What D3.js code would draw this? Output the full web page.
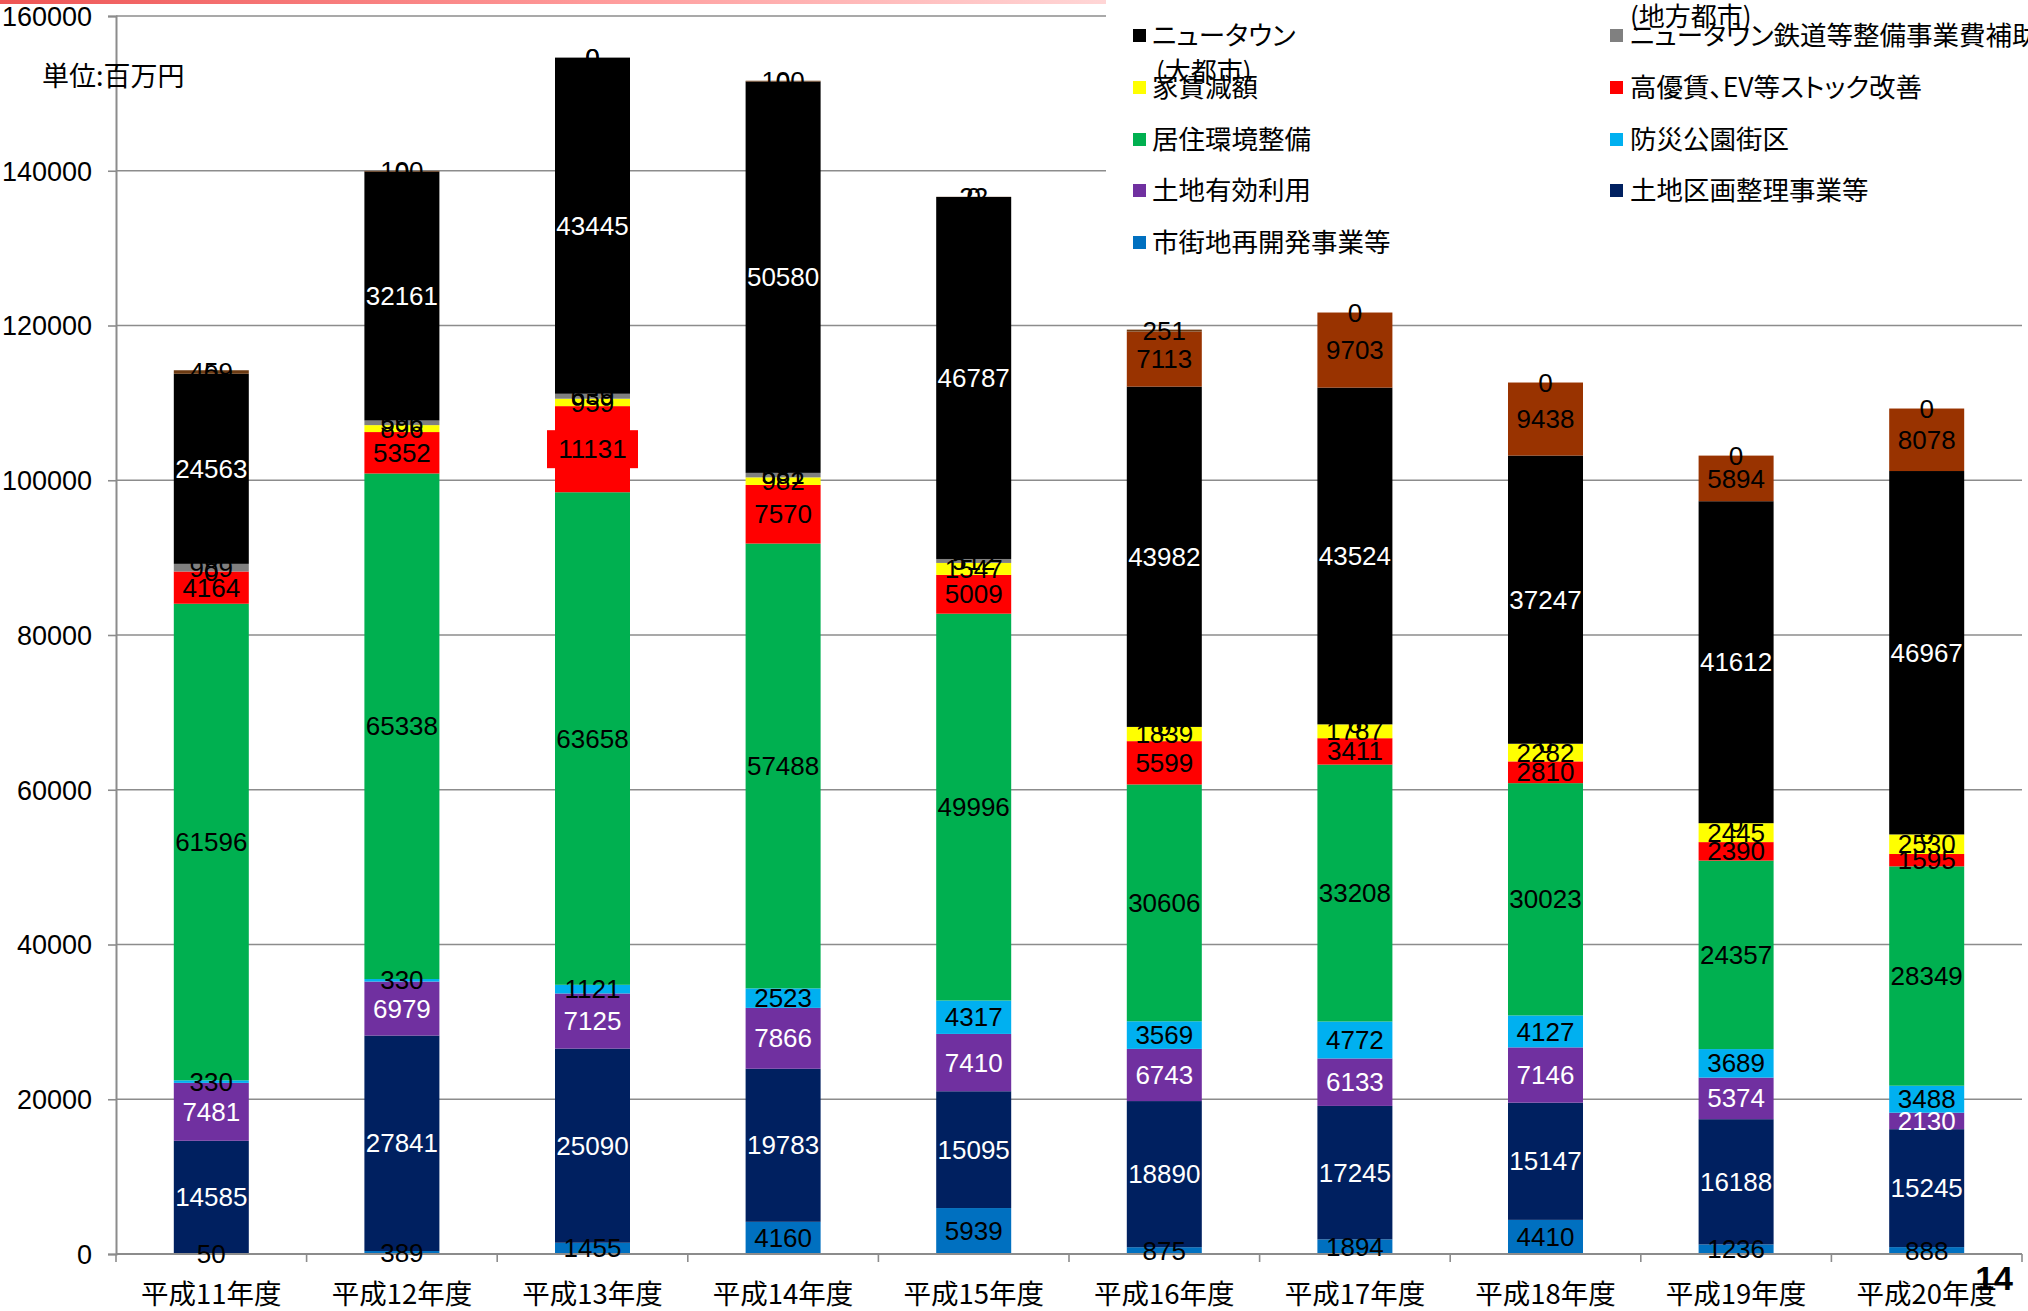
<!DOCTYPE html>
<html>
<head>
<meta charset="utf-8">
<script src="https://cdn.jsdelivr.net/npm/d3@7/dist/d3.min.js"></script>
<style>
  html, body { margin: 0; padding: 0; background: #ffffff; }
  svg { display: block; }
  .jp { font-family: 'Noto Sans CJK JP', 'Noto Sans', sans-serif; font-feature-settings: "palt"; }
</style>
</head>
<body>
<svg id="chart" width="2028" height="1311"></svg>
<script>
// ---- data (百万円) ----
const categories = ["平成11年度", "平成12年度", "平成13年度", "平成14年度", "平成15年度",
                    "平成16年度", "平成17年度", "平成18年度", "平成19年度", "平成20年度"];

const shigaichiValues  = [50, 389, 1455, 4160, 5939, 875, 1894, 4410, 1236, 888];           // 市街地再開発事業等
const kukakuValues     = [14585, 27841, 25090, 19783, 15095, 18890, 17245, 15147, 16188, 15245]; // 土地区画整理事業等
const yukoValues       = [7481, 6979, 7125, 7866, 7410, 6743, 6133, 7146, 5374, 2130];     // 土地有効利用
const bosaiValues      = [330, 330, 1121, 2523, 4317, 3569, 4772, 4127, 3689, 3488];       // 防災公園街区
const kyojuValues      = [61596, 65338, 63658, 57488, 49996, 30606, 33208, 30023, 24357, 28349]; // 居住環境整備
const koyuchinValues   = [4164, 5352, 11131, 7570, 5009, 5599, 3411, 2810, 2390, 1595];    // 高優賃、EV等ストック改善
const yachinValues     = [0, 896, 959, 982, 1547, 1839, 1787, 2282, 2445, 2530];            // 家賃減額
const tetsudoValues    = [989, 596, 639, 581, 512, 0, 0, 0, 0, 0];                          // ニュータウン鉄道等整備事業費補助
const ntDaitoshiValues = [24563, 32161, 43445, 50580, 46787, 43982, 43524, 37247, 41612, 46967]; // ニュータウン（大都市）
const ntChihoValues    = [0, 0, 0, 0, 0, 7113, 9703, 9438, 5894, 8078];                     // ニュータウン（地方都市）
const ntOtherValues    = [459, 100, 0, 100, 22, 251, 0, 0, 0, 0];                           // ニュータウン（その他）

const yTickValues = [0, 20000, 40000, 60000, 80000, 100000, 120000, 140000, 160000];

// stacking order, bottom to top
const seriesDefs = [
  { name: "市街地再開発事業等", values: shigaichiValues },
  { name: "土地区画整理事業等", values: kukakuValues },
  { name: "土地有効利用", values: yukoValues },
  { name: "防災公園街区", values: bosaiValues },
  { name: "居住環境整備", values: kyojuValues },
  { name: "高優賃、EV等ストック改善", values: koyuchinValues },
  { name: "家賃減額", values: yachinValues },
  { name: "ニュータウン鉄道等整備事業費補助", values: tetsudoValues },
  { name: "ニュータウン", values: ntDaitoshiValues },
  { name: "ニュータウン（地方都市）", values: ntChihoValues },
  { name: "ニュータウン（その他）", values: ntOtherValues }
];

// ---- styles ----
const fillColor = {
  "市街地再開発事業等": "#0070C0",
  "土地区画整理事業等": "#002060",
  "土地有効利用": "#7030A0",
  "防災公園街区": "#00B0F0",
  "居住環境整備": "#00B050",
  "高優賃、EV等ストック改善": "#FF0000",
  "家賃減額": "#FFFF00",
  "ニュータウン鉄道等整備事業費補助": "#808080",
  "ニュータウン": "#000000",
  "ニュータウン（地方都市）": "#993300",
  "ニュータウン（その他）": "#6B3A12"
};
const whiteLabelSeries = new Set(["土地区画整理事業等", "土地有効利用", "ニュータウン"]);
const legendSeries = new Set(["ニュータウン", "ニュータウン鉄道等整備事業費補助", "家賃減額",
  "高優賃、EV等ストック改善", "居住環境整備", "防災公園街区", "土地有効利用",
  "土地区画整理事業等", "市街地再開発事業等"]);
// the one data label drawn on a filled box
const boxedLabel = { series: "高優賃、EV等ストック改善", category: "平成13年度" };

const NUM_FONT = "'Liberation Sans', Arial, sans-serif";
const GRID = "#8c8c8c";

// ---- layout ----
const plot = { left: 116, right: 2022, top: 16, bottom: 1254 };

const svg = d3.select("#chart");

const x = d3.scaleBand()
  .domain(categories)
  .range([plot.left, plot.right])
  .paddingInner(0.6065)
  .paddingOuter(0.30325);

const y = d3.scaleLinear()
  .domain([0, 160000])
  .range([plot.bottom, plot.top]);

// top accent strip
const defs = svg.append("defs");
const grad = defs.append("linearGradient").attr("id", "topStrip")
  .attr("x1", "0%").attr("x2", "100%").attr("y1", "0%").attr("y2", "0%");
grad.append("stop").attr("offset", "0%").attr("stop-color", "#EE5555");
grad.append("stop").attr("offset", "55%").attr("stop-color", "#FF9C9C");
grad.append("stop").attr("offset", "100%").attr("stop-color", "#FFD6D6");
svg.append("rect").attr("x", 0).attr("y", 0).attr("width", 1108).attr("height", 4)
  .attr("fill", "url(#topStrip)");

// horizontal gridlines
svg.append("g").selectAll("line")
  .data(yTickValues.filter(v => v > 0))
  .join("line")
  .attr("x1", plot.left).attr("x2", plot.right)
  .attr("y1", d => y(d)).attr("y2", d => y(d))
  .attr("stroke", GRID).attr("stroke-width", 1.6);

// y axis
const yAxis = svg.append("g")
  .attr("transform", `translate(${plot.left},0)`)
  .call(d3.axisLeft(y).tickValues(yTickValues).tickSize(8).tickPadding(16).tickFormat(d3.format("d")));
yAxis.select(".domain").attr("stroke", GRID).attr("stroke-width", 2);
yAxis.selectAll(".tick line").attr("stroke", GRID).attr("stroke-width", 1.6);
yAxis.selectAll(".tick text")
  .attr("font-family", NUM_FONT).attr("font-size", 27).attr("fill", "#000").attr("dy", "0.35em");

// stacked bars
const rows = categories.map((c, i) => {
  const r = { category: c };
  seriesDefs.forEach(s => { r[s.name] = s.values[i]; });
  return r;
});
const stacked = d3.stack().keys(seriesDefs.map(s => s.name))(rows);

const barG = svg.append("g");
stacked.forEach(layer => {
  barG.append("g").attr("fill", fillColor[layer.key])
    .selectAll("rect")
    .data(layer.filter(d => d[1] > d[0]))
    .join("rect")
    .attr("x", d => x(d.data.category))
    .attr("width", x.bandwidth())
    .attr("y", d => y(d[1]))
    .attr("height", d => y(d[0]) - y(d[1]));
});

// x axis line and category ticks
svg.append("line")
  .attr("x1", plot.left).attr("x2", plot.right)
  .attr("y1", plot.bottom).attr("y2", plot.bottom)
  .attr("stroke", GRID).attr("stroke-width", 2);
const step = x.step();
const boundaries = d3.range(categories.length + 1).map(i => plot.left + i * step);
svg.append("g").selectAll("line").data(boundaries).join("line")
  .attr("x1", d => d).attr("x2", d => d)
  .attr("y1", plot.bottom).attr("y2", plot.bottom + 8)
  .attr("stroke", GRID).attr("stroke-width", 1.6);

const xAxis = svg.append("g")
  .attr("transform", `translate(0,${plot.bottom})`)
  .call(d3.axisBottom(x).tickSize(0).tickPadding(0));
xAxis.select(".domain").remove();
xAxis.selectAll(".tick text")
  .attr("class", "jp")
  .attr("font-family", null)
  .attr("y", 40).attr("dy", "0.35em")
  .attr("font-size", 27.5).attr("fill", "#000");

// data labels
const labelG = svg.append("g")
  .attr("font-family", NUM_FONT).attr("font-size", 26).attr("text-anchor", "middle");
stacked.forEach(layer => {
  layer.forEach(d => {
    const v = d.data[layer.key];
    if (v == null) return;
    const cx = x(d.data.category) + x.bandwidth() / 2;
    const cy = (y(d[0]) + y(d[1])) / 2;
    if (layer.key === boxedLabel.series && d.data.category === boxedLabel.category) {
      labelG.append("rect")
        .attr("x", cx - 45.5).attr("y", cy - 19)
        .attr("width", 91).attr("height", 38)
        .attr("fill", fillColor[layer.key]);
    }
    labelG.append("text")
      .attr("x", cx).attr("y", cy).attr("dy", "0.35em")
      .attr("fill", whiteLabelSeries.has(layer.key) ? "#ffffff" : "#000000")
      .text(v);
  });
});

// unit note
svg.append("text").attr("class", "jp")
  .attr("x", 42).attr("y", 77).attr("dy", "0.35em")
  .attr("font-size", 27).attr("fill", "#000")
  .text("単位:百万円");

// legend
const legendG = svg.append("g");
legendG.append("rect").attr("x", 1106).attr("y", 0).attr("width", 922).attr("height", 272).attr("fill", "#ffffff");
const legendItems = seriesDefs.slice().reverse().filter(s => legendSeries.has(s.name));
const legendCols = [{ sw: 1133, tx: 1152 }, { sw: 1610, tx: 1630 }];
const legendRowY = [36, 88, 140, 191, 243];
legendItems.forEach((s, i) => {
  const col = legendCols[i % 2];
  const ry = legendRowY[Math.floor(i / 2)];
  legendG.append("rect").attr("x", col.sw).attr("y", ry - 7).attr("width", 13).attr("height", 13)
    .attr("fill", fillColor[s.name]);
  legendG.append("text").attr("class", "jp")
    .attr("x", col.tx).attr("y", ry).attr("dy", "0.35em")
    .attr("font-size", 26.5).attr("fill", "#000")
    .text(s.name);
});
legendG.append("text").attr("class", "jp").attr("x", 1156).attr("y", 72).attr("dy", "0.35em")
  .attr("font-size", 26).attr("fill", "#000").text("(大都市)");
legendG.append("text").attr("class", "jp").attr("x", 1630).attr("y", 17).attr("dy", "0.35em")
  .attr("font-size", 26).attr("fill", "#000").text("(地方都市)");

// page number
svg.append("text")
  .attr("x", 2013).attr("y", 1290).attr("text-anchor", "end")
  .attr("font-family", NUM_FONT).attr("font-size", 34).attr("font-weight", "bold").attr("fill", "#000")
  .text("14");
</script>
</body>
</html>
